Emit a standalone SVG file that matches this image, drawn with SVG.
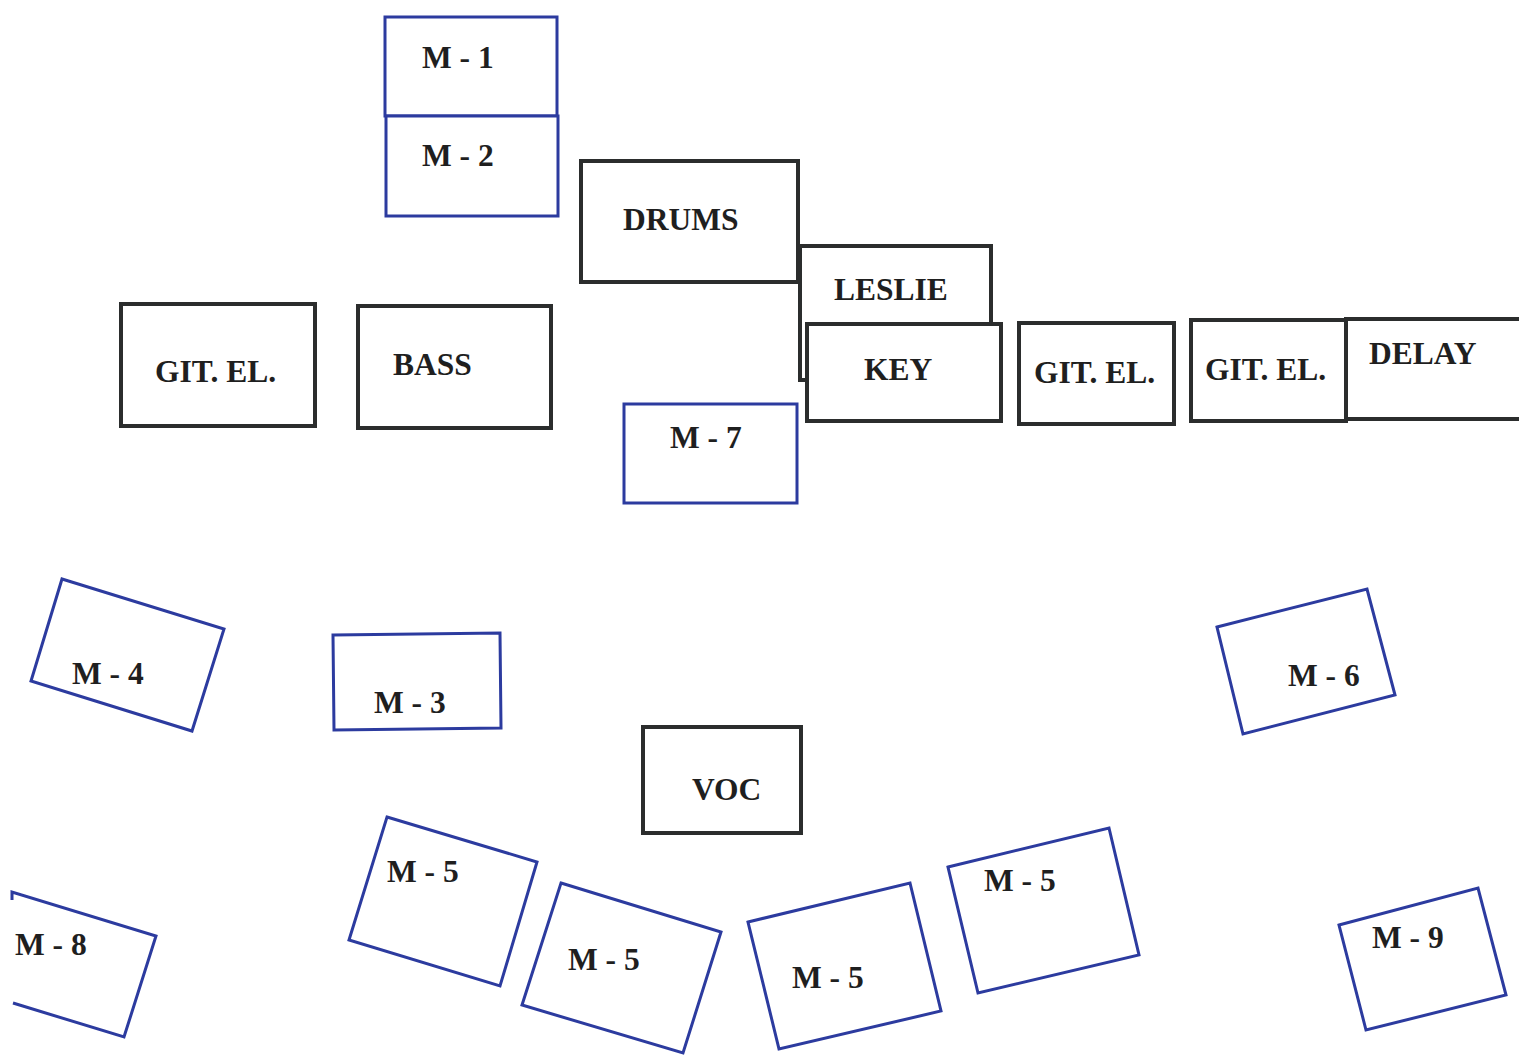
<svg xmlns="http://www.w3.org/2000/svg" width="1519" height="1055" viewBox="0 0 1519 1055">
<style>
.b{fill:#fff;stroke:#2c3b9f;stroke-width:3}
.d{fill:#fff;stroke:#2b2d2d;stroke-width:4}
.t{font-family:"Liberation Serif","DejaVu Serif",serif;font-weight:bold;font-size:31.5px;fill:#1f1f1f}
</style>
<rect width="1519" height="1055" fill="#fff"/>
<g id="connectors"></g>
<g id="m1"><rect class="b" x="385" y="17" width="172" height="99"/><text class="t" x="422" y="68">M - 1</text></g>
<g id="m2"><rect class="b" x="386" y="116" width="172" height="100"/><text class="t" x="422" y="166">M - 2</text></g>
<g id="drums"><rect class="d" x="581" y="161" width="217" height="121"/><text class="t" x="623" y="230">DRUMS</text></g>
<g id="leslie"><rect class="d" x="800" y="246" width="191" height="134"/><text class="t" x="834" y="300">LESLIE</text></g>
<g id="key"><rect class="d" x="807" y="324" width="194" height="97"/><text class="t" x="864" y="380">KEY</text></g>
<g id="git1"><rect class="d" x="121" y="304" width="194" height="122"/><text class="t" x="155" y="382">GIT. EL.</text></g>
<g id="bass"><rect class="d" x="358" y="306" width="193" height="122"/><text class="t" x="393" y="375">BASS</text></g>
<g id="git2"><rect class="d" x="1019" y="323" width="155" height="101"/><text class="t" x="1034" y="383">GIT. EL.</text></g>
<g id="git3"><rect class="d" x="1191" y="320" width="155" height="101"/><text class="t" x="1205" y="380">GIT. EL.</text></g>
<g id="delay"><rect class="d" x="1346" y="319" width="176" height="100"/><text class="t" x="1369" y="364">DELAY</text></g>
<g id="m7"><rect class="b" x="624" y="404" width="173" height="99"/><text class="t" x="670" y="448">M - 7</text></g>
<g id="m4"><polygon class="b" points="62,579 224,629 192,731 31,681"/><text class="t" x="72" y="684">M - 4</text></g>
<g id="m3"><polygon class="b" points="333,635 500,633 501,728 334,730"/><text class="t" x="374" y="713">M - 3</text></g>
<g id="m6"><polygon class="b" points="1217,627 1367,589 1395,695 1243,734"/><text class="t" x="1288" y="686">M - 6</text></g>
<g id="voc"><rect class="d" x="643" y="727" width="158" height="106"/><text class="t" x="692" y="800">VOC</text></g>
<g id="m5a"><polygon class="b" points="387,817 537,862 500,986 349,940"/><text class="t" x="387" y="882">M - 5</text></g>
<g id="m5b"><polygon class="b" points="561,883 721,932 683,1053 522,1005"/><text class="t" x="568" y="970">M - 5</text></g>
<g id="m5c"><polygon class="b" points="748,922 910,883 941,1011 779,1049"/><text class="t" x="792" y="988">M - 5</text></g>
<g id="m5d"><polygon class="b" points="948,867 1109,828 1139,955 978,993"/><text class="t" x="984" y="891">M - 5</text></g>
<g id="m9"><polygon class="b" points="1339,925 1478,888 1506,995 1366,1030"/><text class="t" x="1372" y="948">M - 9</text></g>
<g id="m8"><polyline class="b" fill="none" points="12,900 12,892 156,936 124,1037 13,1003"/><text class="t" x="15" y="955">M - 8</text></g>
</svg>
